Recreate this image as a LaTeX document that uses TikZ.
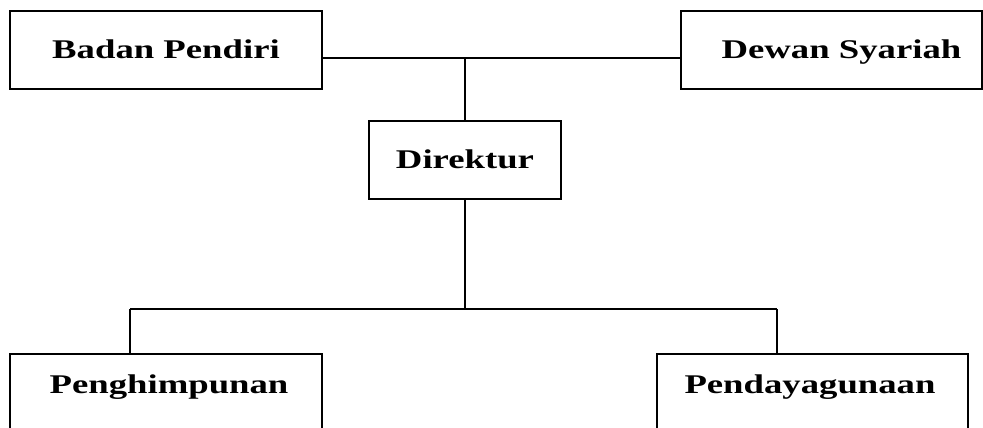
\documentclass[tikz,border=0pt]{standalone}
\usepackage{fontspec}
\setmainfont{Liberation Serif}
\usepackage{graphicx}
\newcommand{\orglabel}[1]{\scalebox{1.36}[1]{#1}}
\begin{document}
\begin{tikzpicture}[x=1pt,y=-1pt,
  unitbox/.style={draw=black, line width=1.6pt, rectangle, inner sep=0pt,
    font=\bfseries\fontsize{27}{32}\selectfont,
    text height=17.7pt, text depth=0pt},
  unitlabel/.style={inner sep=0pt, font=\bfseries\fontsize{27}{32}\selectfont,
    text height=17.7pt, text depth=0pt},
  link/.style={draw=black, line width=1.3pt}]
\useasboundingbox (0,0) rectangle (983,428);
\clip (0,0) rectangle (983,428);
\fill[white] (0,0) rectangle (983,428);

% top row
\node[unitbox, minimum width=312pt, minimum height=78pt] (bp) at (166,50)
  {\orglabel{Badan Pendiri}};
\node[unitbox, minimum width=301pt, minimum height=78pt] (ds) at (831.5,50)
  {\hspace{20pt}\orglabel{Dewan Syariah}};
% director
\node[unitbox, minimum width=192pt, minimum height=78pt] (dir) at (465,160)
  {\orglabel{Direktur}};
% bottom row (boxes run past the lower edge)
\node[unitbox, minimum width=312pt, minimum height=100pt, anchor=north] (pg) at (166,353) {};
\node[unitlabel] (pgt) at (169,385) {\orglabel{Penghimpunan}};
\node[unitbox, minimum width=311pt, minimum height=100pt, anchor=north] (pd) at (812.5,353) {};
\node[unitlabel] (pdt) at (810,385) {\orglabel{Pendayagunaan}};

% junctions
\coordinate (jt) at (465,58);
\coordinate (jb) at (465,309);
\coordinate (jl) at (130,309);
\coordinate (jr) at (777,309);

% connectors
\draw[link] (bp.east |- jt) -- (ds.west |- jt);
\draw[link] (jt) -- (dir.north);
\draw[link] (dir.south) -- (jb);
\draw[link] (jl) -- (jr);
\draw[link] (jl) -- (jl |- pg.north);
\draw[link] (jr) -- (jr |- pd.north);
\end{tikzpicture}
\end{document}
